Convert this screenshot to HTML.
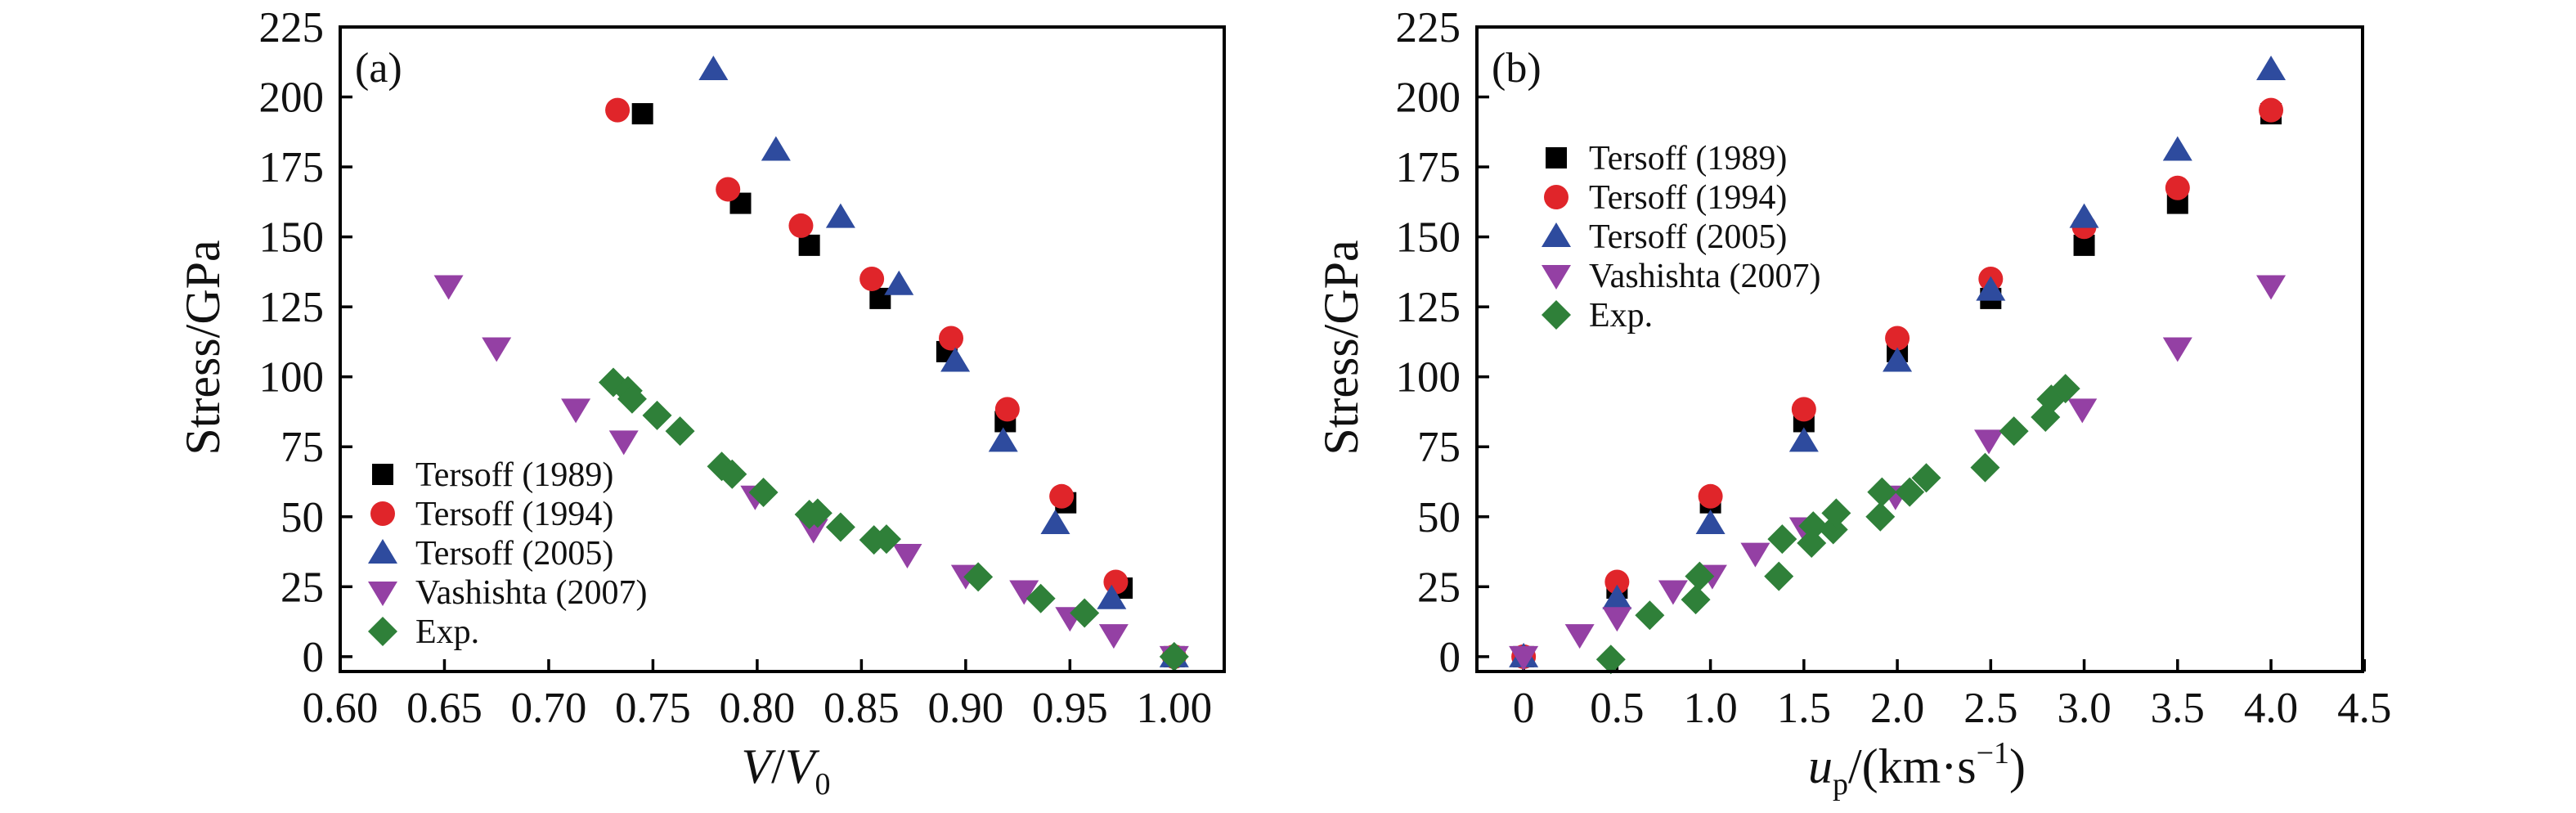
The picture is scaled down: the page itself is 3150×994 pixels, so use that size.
<!DOCTYPE html>
<html><head><meta charset="utf-8"><style>
html,body{margin:0;padding:0;background:#fff;}
svg{display:block;font-family:"Liberation Serif","Times New Roman",serif;}
svg text{font-family:"Liberation Serif","Times New Roman",serif;}
</style></head><body>
<svg id="chart" width="3150" height="994" viewBox="0 0 3150 994" xmlns="http://www.w3.org/2000/svg" font-family="Liberation Serif, serif"></svg>
<script>
// ---------- data ----------
const seriesNames = ["Tersoff (1989)", "Tersoff (1994)", "Tersoff (2005)", "Vashishta (2007)", "Exp."];
const yTicks = [0, 25, 50, 75, 100, 125, 150, 175, 200, 225];
const xTicksA = [0.60, 0.65, 0.70, 0.75, 0.80, 0.85, 0.90, 0.95, 1.00];
const xTickLabelsA = ["0.60","0.65","0.70","0.75","0.80","0.85","0.90","0.95","1.00"];
const xTicksB = [0, 0.5, 1.0, 1.5, 2.0, 2.5, 3.0, 3.5, 4.0, 4.5];
const xTickLabelsB = ["0","0.5","1.0","1.5","2.0","2.5","3.0","3.5","4.0","4.5"];

// panel (a): V/V0 vs stress
const aT89x = [0.745, 0.792, 0.825, 0.859, 0.891, 0.919, 0.948, 0.975, 1.0];
const aT89y = [194, 162, 147, 128, 109, 84, 55, 24.5, 0];
const aT94x = [0.733, 0.786, 0.821, 0.855, 0.893, 0.920, 0.946, 0.972, 1.0];
const aT94y = [195.3, 167, 154, 135, 113.8, 88.4, 57.3, 26.7, 0];
const aT05x = [0.779, 0.809, 0.840, 0.868, 0.895, 0.918, 0.943, 0.970, 1.0];
const aT05y = [209.8, 181, 157, 133, 105.6, 77, 47.6, 20.8, 0];
const aVx = [0.652, 0.675, 0.713, 0.736, 0.799, 0.827, 0.872, 0.900, 0.928, 0.950, 0.971, 1.0];
const aVy = [132.5, 110.3, 88.4, 77, 57.3, 45.4, 36.5, 29, 23.5, 13.9, 7.8, 0];
const aEx = [0.731, 0.738, 0.740, 0.752, 0.763, 0.783, 0.788, 0.803, 0.825, 0.829, 0.840, 0.856, 0.862, 0.906, 0.936, 0.957, 1.0];
const aEy = [98, 95, 92.1, 86.2, 80.6, 68, 65.2, 58.7, 50.8, 51.3, 46.3, 41.7, 42, 28.5, 20.8, 15.6, 0];

// panel (b): u_p vs stress
const bT89x = [0, 0.5, 1.0, 1.5, 2.0, 2.5, 3.0, 3.5, 4.0];
const bT89y = [0, 24.5, 55, 84, 109, 128, 147, 162, 194];
const bT94x = [0, 0.5, 1.0, 1.5, 2.0, 2.5, 3.0, 3.5, 4.0];
const bT94y = [0, 26.7, 57.3, 88.4, 113.8, 135, 153.6, 167.5, 195.3];
const bT05x = [0, 0.5, 1.0, 1.5, 2.0, 2.5, 3.0, 3.5, 4.0];
const bT05y = [0, 20.8, 47.6, 77, 105.6, 131, 157, 181, 209.8];
const bVx = [0, 0.30, 0.50, 0.80, 1.01, 1.24, 1.50, 1.99, 2.49, 2.99, 3.5, 4.0];
const bVy = [0, 7.8, 13.9, 23.5, 29, 36.9, 46, 57.3, 77.3, 88.4, 110.3, 132.5];
const bEx = [0.467, 0.675, 0.921, 0.942, 1.366, 1.384, 1.541, 1.550, 1.657, 1.673, 1.909, 1.918, 2.066, 2.155, 2.47, 2.624, 2.793, 2.824, 2.9];
const bEy = [-1, 14.8, 20.4, 28.7, 28.7, 42, 40.6, 46.7, 45.4, 51.3, 50, 58.8, 58.8, 63.9, 67.6, 80.6, 85.6, 92, 95.8];

// ---------- drawing ----------
const NS = "http://www.w3.org/2000/svg";
const svg = document.getElementById("chart");
const colors = ["#000000", "#e0252a", "#2e4b9e", "#9440a4", "#2f8039"];
const shapes = ["square", "circle", "up", "down", "diamond"];
const FONT = "Liberation Serif, Times New Roman, serif";

function mk(tag, attrs, parent) {
  const e = document.createElementNS(NS, tag);
  for (const k in attrs) e.setAttribute(k, attrs[k]);
  if (tag === "text") e.setAttribute("font-family", FONT);
  (parent || svg).appendChild(e);
  return e;
}
function marker(shape, cx, cy, color, parent) {
  let e;
  if (shape === "square") e = mk("rect", {x: cx-13, y: cy-13, width: 26, height: 26, fill: color}, parent);
  else if (shape === "circle") e = mk("circle", {cx: cx, cy: cy, r: 15, fill: color}, parent);
  else if (shape === "up") e = mk("polygon", {points: `${cx},${cy-17} ${cx+18},${cy+13} ${cx-18},${cy+13}`, fill: color}, parent);
  else if (shape === "down") e = mk("polygon", {points: `${cx},${cy+17} ${cx+18},${cy-13} ${cx-18},${cy-13}`, fill: color}, parent);
  else e = mk("polygon", {points: `${cx},${cy-18} ${cx+18},${cy} ${cx},${cy+18} ${cx-18},${cy}`, fill: color}, parent);
  return e;
}

function panel(cfg) {
  const g = mk("g", {});
  
  
  const L = cfg.left, R = cfg.right, T = 33, B = 821;
  const sx = v => L + (v - cfg.xmin) / (cfg.xmax - cfg.xmin) * (R - L);
  const sy = v => B - (v - (-5.3)) / (225 - (-5.3)) * (B - T);

  yTicks.forEach(t => {
    const y = sy(t);
    const tk = mk("line", {x1: L, x2: L + 15, y1: y, y2: y, stroke: "#000", "stroke-width": 3.5}, g);
    
    
    const tx = mk("text", {x: L - 20, y: y + 18, "text-anchor": "end", "font-size": 53, fill: "#111"}, g);
    tx.textContent = String(t);
    
    
  });
  cfg.xt.forEach((t, i) => {
    const x = sx(t);
    const tk = mk("line", {x1: x, x2: x, y1: B, y2: B - 15, stroke: "#000", "stroke-width": 3.5}, g);
    
    
    const tx = mk("text", {x: x, y: 883, "text-anchor": "middle", "font-size": 53, fill: "#111"}, g);
    tx.textContent = cfg.xl[i];
    
    
  });
  cfg.series.forEach((s, si) => {
    const sg = mk("g", {}, g);
    
    
    s[0].forEach((xv, k) => {
      const m = marker(shapes[si], sx(xv), sy(s[1][k]), colors[si], sg);
      
      
    });
  });
  const fr = mk("rect", {x: L, y: T, width: R - L, height: B - T, fill: "none", stroke: "#000", "stroke-width": 4}, g);
  
  
  const pl = mk("text", {x: L + 18, y: 100, "font-size": 52, fill: "#111"}, g);
  pl.textContent = cfg.label;
  
  
  const yt = mk("text", {x: 0, y: 0, "font-size": 60, fill: "#111", "text-anchor": "middle", transform: `translate(${cfg.ytx},425) rotate(-90)`}, g);
  yt.textContent = "Stress/GPa";
  
  
  const lg = mk("g", {}, g);
  
  
  seriesNames.forEach((n, i) => {
    const cy = cfg.legY + i * 48;
    const m = marker(shapes[i], cfg.legX, cy, colors[i], lg);
    
    
    const t = mk("text", {x: cfg.legX + 40, y: cy + 14, "font-size": 42, fill: "#111"}, lg);
    t.textContent = n;
    
    
  });
  return {sx, sy};
}

panel({name: "panel-a", label: "(a)", left: 416, right: 1497, xmin: 0.60, xmax: 1.024,
  xt: xTicksA, xl: xTickLabelsA, ytx: 268, legX: 468, legY: 580,
  series: [[aT89x, aT89y], [aT94x, aT94y], [aT05x, aT05y], [aVx, aVy], [aEx, aEy]]});
panel({name: "panel-b", label: "(b)", left: 1806, right: 2889, xmin: -0.25, xmax: 4.49,
  xt: xTicksB, xl: xTickLabelsB, ytx: 1660, legX: 1903, legY: 193,
  series: [[bT89x, bT89y], [bT94x, bT94y], [bT05x, bT05y], [bVx, bVy], [bEx, bEy]]});

const xa = mk("text", {x: 961, y: 957, "font-size": 60, "text-anchor": "middle", fill: "#111"});
xa.innerHTML = '<tspan font-style="italic">V</tspan>/<tspan font-style="italic">V</tspan><tspan font-size="38" dy="14">0</tspan>';


const xb = mk("text", {x: 2344, y: 957, "font-size": 60, "text-anchor": "middle", fill: "#111"});
xb.innerHTML = '<tspan font-style="italic">u</tspan><tspan font-size="38" dy="14">p</tspan><tspan dy="-14">/(km·s</tspan><tspan font-size="38" dy="-24">−1</tspan><tspan dy="24">)</tspan>';


</script>
</body></html>
